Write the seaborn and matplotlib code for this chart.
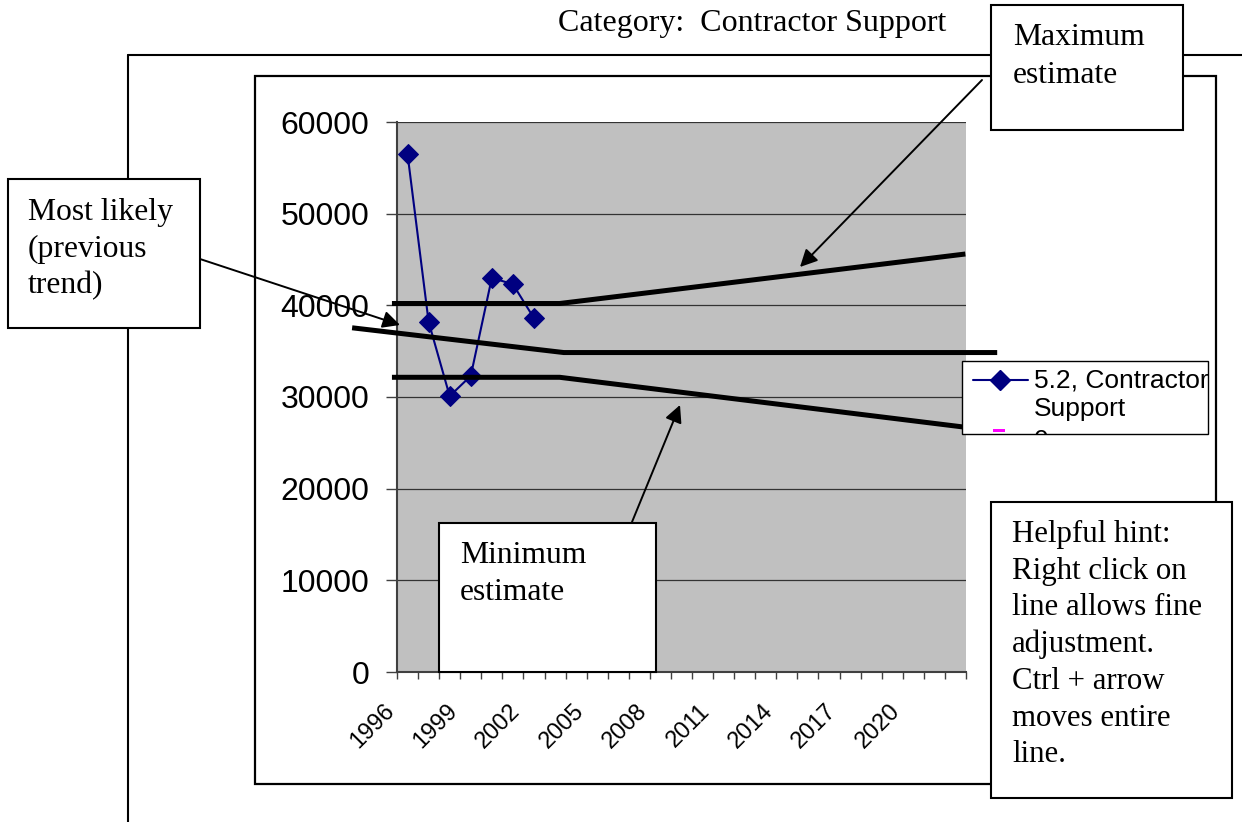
import numpy as np
import matplotlib
matplotlib.use('Agg')
import matplotlib.pyplot as plt
import seaborn as sns
from matplotlib.patches import Rectangle, FancyArrowPatch
from matplotlib.lines import Line2D
from matplotlib.transforms import ScaledTranslation

# data
years = [1996, 1997, 1998, 1999, 2000, 2001, 2002]
cost = [56500, 38200, 30100, 32300, 43000, 42300, 38600]
tick_years = list(range(1996, 2021, 3))
yticks = [0, 10000, 20000, 30000, 40000, 50000, 60000]

# hand drawn estimate lines (x in years, y in dollars)
max_years = [1995.26, 2003.22, 2022.47]
max_vals = [40200, 40200, 45600]
likely_years = [1993.37, 2003.41, 2023.98]
likely_vals = [37550, 34850, 34850]
min_years = [1995.26, 2003.22, 2022.47]
min_vals = [32150, 32150, 26700]

title = 'Category:  Contractor Support'
series_name = ['5.2, Contractor', 'Support']

sns.set_theme(style='white')
plt.rcParams['font.family'] = ['Liberation Sans', 'DejaVu Sans']
plt.rcParams['text.color'] = 'black'
plt.rcParams['xtick.color'] = 'black'
plt.rcParams['ytick.color'] = 'black'

W, H = 1242, 822
fig = plt.figure(figsize=(W / 100, H / 100), dpi=100)
fig.patch.set_facecolor('white')


def fx(x):
    return x / W


def fy(y):
    return 1 - y / H


ax = fig.add_axes([fx(397), fy(672), 569 / W, 550 / H])
ax.set_facecolor('#C0C0C0')

sns.lineplot(x=years, y=cost, marker='D', markersize=10, color='#000080',
             markeredgecolor='#000080', lw=1.5, ax=ax, legend=False, zorder=3)

for xs, vs in [(max_years, max_vals), (likely_years, likely_vals), (min_years, min_vals)]:
    ax.plot(xs, vs, color='black', lw=3.6, clip_on=False, zorder=4,
            solid_capstyle='butt')

ax.set_xlim(1995.5, 2022.5)
ax.set_ylim(0, 60000)
ax.set_yticks(yticks)
ax.set_yticklabels([str(v) for v in yticks], fontsize=23)
ax.set_xticks(tick_years)
ax.set_xticklabels([str(y) for y in tick_years], fontsize=17, rotation=45, ha='right')
ax.set_xticks(np.arange(1995.5, 2023, 1), minor=True)
ax.tick_params(axis='x', which='major', length=0, pad=20, colors='black')
ax.tick_params(axis='x', which='minor', length=5, width=1, color='#404040', direction='out', bottom=True)
ax.tick_params(axis='y', length=8, width=1, color='#404040', labelcolor='black', pad=12, left=True)
ax.set_xlabel('')
ax.set_ylabel('')
shift = ScaledTranslation(-9 / 100, 0, fig.dpi_scale_trans)
for lab in ax.get_xticklabels():
    lab.set_transform(lab.get_transform() + shift)

ax.yaxis.grid(True, color='#333333', lw=0.9)
ax.xaxis.grid(False)
ax.set_axisbelow(True)
for s in ['top', 'right']:
    ax.spines[s].set_visible(False)
for s in ['left', 'bottom']:
    ax.spines[s].set_color('#404040')
    ax.spines[s].set_linewidth(1.5)

# outer frame lines
fig.add_artist(Line2D([fx(128), fx(1242)], [fy(55), fy(55)], color='black', lw=1.5, zorder=1))
fig.add_artist(Line2D([fx(128), fx(128)], [fy(55), fy(822)], color='black', lw=1.5, zorder=1))
fig.add_artist(Rectangle((fx(255), fy(784)), (1216 - 255) / W, (784 - 76) / H,
                         fill=False, ec='black', lw=1.6, zorder=1))

serif = ['Liberation Serif', 'DejaVu Serif']
fig.text(fx(752), fy(31), title, ha='center', va='baseline', fontsize=23, family=serif)


def box(x0, y0, x1, y1, lines, x_text, baselines, size=22.5):
    fig.add_artist(Rectangle((fx(x0), fy(y1)), (x1 - x0) / W, (y1 - y0) / H,
                             fc='white', ec='black', lw=1.5, zorder=5))
    for line, b in zip(lines, baselines):
        fig.text(fx(x_text), fy(b), line, ha='left', va='baseline', fontsize=size,
                 family=serif, zorder=6)


box(991, 5, 1183, 130, ['Maximum', 'estimate'], 1013, [45, 83], size=22.8)
box(8, 179, 200, 328, ['Most likely', '(previous', 'trend)'], 28, [220, 256.5, 293], size=22.8)
box(439, 523, 656, 672, ['Minimum', 'estimate'], 460, [563, 600], size=22.8)
box(991, 502, 1232, 798,
    ['Helpful hint:', 'Right click on', 'line allows fine', 'adjustment.',
     'Ctrl + arrow', 'moves entire', 'line.'],
    1012, [542, 578.5, 615, 652, 689, 725.5, 762], size=22.2)

# arrows
for (x0, y0), (x1, y1) in [((982, 80), (800, 267)), ((200, 259), (400, 325)),
                           ((632, 522), (680, 405))]:
    fig.add_artist(FancyArrowPatch((fx(x0), fy(y0)), (fx(x1), fy(y1)),
                                   transform=fig.transFigure, arrowstyle='-|>',
                                   mutation_scale=26, lw=1.4, color='black', zorder=5,
                                   shrinkA=0, shrinkB=0))

# legend
leg = Rectangle((fx(962), fy(434)), (1208 - 962) / W, (434 - 361) / H,
                fc='white', ec='black', lw=1.0, zorder=7, transform=fig.transFigure)
fig.add_artist(leg)
fig.add_artist(Line2D([fx(973), fx(1000), fx(1028)], [fy(380)] * 3, color='#000080', lw=1.5,
                      marker='D', markersize=10, markevery=[1], zorder=8))
fig.add_artist(Rectangle((fx(993), fy(432)), 12 / W, 3 / H, fc='#FF00FF', ec='none', zorder=8))
fig.text(fx(1034), fy(387), series_name[0], ha='left', va='baseline', fontsize=19, zorder=8)
fig.text(fx(1034), fy(416), series_name[1], ha='left', va='baseline', fontsize=19, zorder=8)
zero = fig.text(fx(1034), fy(448), '0', ha='left', va='baseline', fontsize=19, zorder=8)
zero.set_clip_path(leg)

fig.savefig('out.png', dpi=100)
